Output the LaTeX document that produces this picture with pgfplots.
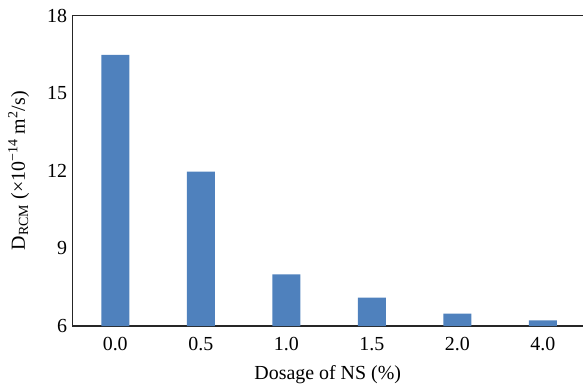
\documentclass[border=0pt]{standalone}
\usepackage{pgfplots}
\pgfplotsset{compat=1.18}
\usepackage{fontspec}
\setmainfont{Liberation Serif}
\usetikzlibrary{calc}
\definecolor{barblue}{RGB}{79,129,189}
\begin{document}
\begin{tikzpicture}
\begin{axis}[
  scale only axis,
  width=510.5bp, height=310.5bp,
  xmin=-0.5, xmax=5.47,
  ymin=6, ymax=18,
  ytick={6,9,12,15,18},
  xtick={0,1,2,3,4,5},
  xticklabels={0.0,0.5,1.0,1.5,2.0,4.0},
  major tick length=0pt,
  axis x line*=bottom,
  axis y line*=left,
  axis line style={line width=1.2bp, color=black!85},
  ybar, bar width=28bp, bar shift=0pt,
  tick label style={font=\fontsize{20}{24}\selectfont},
  label style={font=\fontsize{20}{24}\selectfont},
  /pgf/number format/assume math mode=true,
  yticklabel style={xshift=-2bp},
  xticklabel style={yshift=-8bp},
  xlabel={Dosage of NS (\%)},
  ylabel={D\textsubscript{RCM} (×10\textsuperscript{−14} m\textsuperscript{2}/s)},
  ylabel style={yshift=11bp},
  xlabel style={yshift=-8bp},
  clip=false,
]
\addplot[fill=barblue, draw=none] coordinates {(0,16.48) (1,11.97) (2,8.0) (3,7.1) (4,6.48) (5,6.22)};
\draw[line width=1.2bp, color=black!85] (rel axis cs:0,1) -- (rel axis cs:1,1);
\end{axis}
\pgfresetboundingbox
\useasboundingbox ($(current axis.south west)+(-72.5bp,-59bp)$) rectangle ($(current axis.north east)+(0bp,15.5bp)$);
\end{tikzpicture}
\end{document}
